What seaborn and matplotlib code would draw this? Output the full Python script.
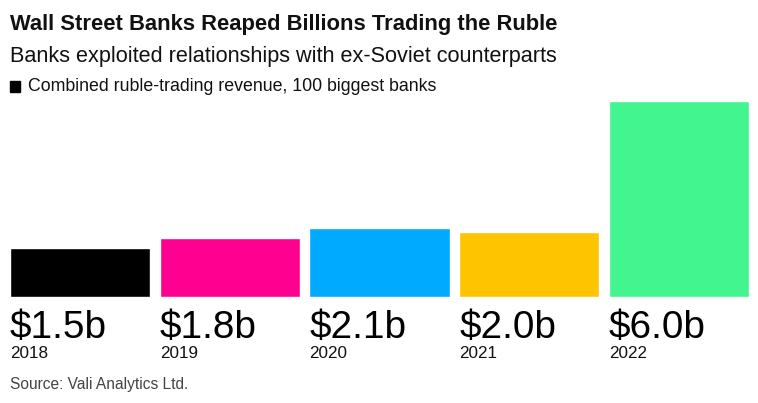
import matplotlib
matplotlib.use("Agg")
import matplotlib.pyplot as plt
import matplotlib.patches as mpatches
import seaborn as sns
import pandas as pd

years = ["2018", "2019", "2020", "2021", "2022"]
revenue = [1.5, 1.8, 2.1, 2.0, 6.0]
value_labels = ["$1.5b", "$1.8b", "$2.1b", "$2.0b", "$6.0b"]
colors = ["#000000", "#ff0090", "#00aaff", "#ffc400", "#43f58f"]

sns.set_style("white")
plt.rcParams["font.family"] = ["Liberation Sans", "DejaVu Sans"]

W, H = 758, 403
fig = plt.figure(figsize=(W / 100, H / 100), dpi=100)
ax = fig.add_axes([10 / W, 1 - 297 / H, 739 / W, 196 / H])

df = pd.DataFrame({"year": years, "revenue": revenue})
sns.barplot(data=df, x="year", y="revenue", hue="year", palette=colors,
            width=0.935, legend=False, ax=ax, saturation=1)

half = 0.935 / 2
ax.set_xlim(-half, len(years) - 1 + half)
ax.set_ylim(0, 6.0)
ax.axis("off")

for patch, lab, yr in zip(ax.patches, value_labels, years):
    x0 = patch.get_x()
    ax.annotate(lab, xy=(x0, 0), xytext=(0, -41), textcoords="offset pixels",
                fontsize=27.9, ha="left", va="baseline", color="#000000")
    ax.annotate(yr, xy=(x0, 0), xytext=(0, -61), textcoords="offset pixels",
                fontsize=12.3, ha="left", va="baseline", color="#111111")

fig.text(10 / W, 1 - 30 / H, "Wall Street Banks Reaped Billions Trading the Ruble",
         fontsize=15.8, fontweight="bold", ha="left", va="baseline", color="#111111")
fig.text(10 / W, 1 - 62 / H, "Banks exploited relationships with ex-Soviet counterparts",
         fontsize=15.6, ha="left", va="baseline", color="#111111")
fig.patches.append(mpatches.Rectangle((10 / W, 1 - 92 / H), 10 / W, 11 / H,
                                      transform=fig.transFigure, color="#000000"))
fig.text(28 / W, 1 - 91 / H, "Combined ruble-trading revenue, 100 biggest banks",
         fontsize=12.8, ha="left", va="baseline", color="#111111")
fig.text(10 / W, 1 - 389 / H, "Source: Vali Analytics Ltd.",
         fontsize=11.2, ha="left", va="baseline", color="#444444")

fig.savefig("out.png", dpi=100, facecolor="white")
